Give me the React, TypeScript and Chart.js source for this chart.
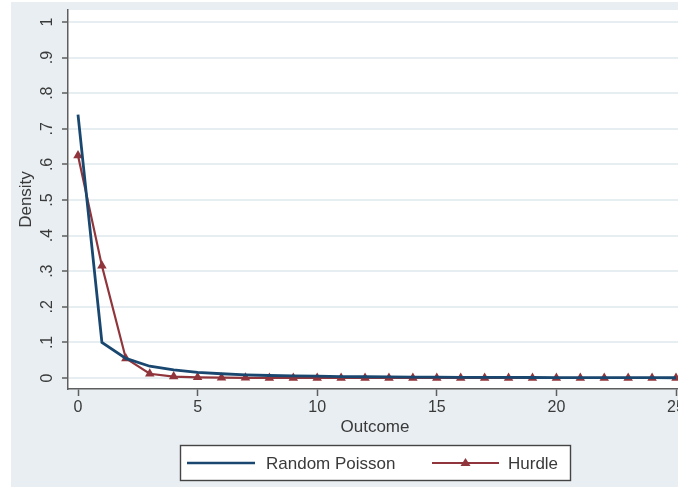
import React, { useEffect, useRef } from "react";
import { Chart, registerables } from "chart.js";

Chart.register(...registerables);

// ---------- data ----------
const outcomes = [0, 1, 2, 3, 4, 5, 6, 7, 8, 9, 10, 11, 12, 13, 14, 15, 16, 17, 18, 19, 20, 21, 22, 23, 24, 25];
const randomPoisson = [
  0.74, 0.1, 0.055, 0.033, 0.023, 0.016, 0.012, 0.009, 0.007, 0.006, 0.005, 0.004, 0.0035,
  0.003, 0.0026, 0.0023, 0.002, 0.0018, 0.0016, 0.0014, 0.0012, 0.0011, 0.001, 0.0009, 0.0008, 0.0007,
];
const hurdle = [
  0.625, 0.315, 0.055, 0.012, 0.004, 0.002, 0.001, 0.0006, 0.0003, 0.0002, 0.0001, 0, 0,
  0, 0, 0, 0, 0, 0, 0, 0, 0, 0, 0, 0, 0,
];
const seriesLabels = ["Random Poisson", "Hurdle"];
const yTickValues = [0, 0.1, 0.2, 0.3, 0.4, 0.5, 0.6, 0.7, 0.8, 0.9, 1];
const yTickLabels = ["0", ".1", ".2", ".3", ".4", ".5", ".6", ".7", ".8", ".9", "1"];
const xTickValues = [0, 5, 10, 15, 20, 25];
const xTitle = "Outcome";
const yTitle = "Density";

// ---------- styles ----------
const FONT = "'Liberation Sans', Arial, sans-serif";
const TEXT = "#3a3a3a";
const AXIS = "#5e5e5e";
const GRID = "#e7eef1";
const BG = "#e8eef1";
const BLUE = "#1a476f";
const RED = "#90353b";

const CW = 700;
const CH = 485;

export default function App() {
  const ref = useRef<HTMLCanvasElement | null>(null);

  useEffect(() => {
    const canvas = ref.current;
    if (!canvas) return;

    const bgPlugin = {
      id: "bgPlugin",
      beforeDraw(chart: any) {
        const { ctx, chartArea } = chart;
        ctx.save();
        ctx.fillStyle = "#ffffff";
        ctx.fillRect(chartArea.left, chartArea.top, chartArea.right - chartArea.left, chartArea.bottom - chartArea.top);
        ctx.restore();
      },
      afterDraw(chart: any) {
        const { ctx, chartArea } = chart;
        const yScale = chart.scales.y;
        ctx.save();
        ctx.fillStyle = TEXT;
        // y tick labels, rotated
        ctx.font = `16px ${FONT}`;
        ctx.textAlign = "center";
        ctx.textBaseline = "middle";
        yTickValues.forEach((v, i) => {
          const py = yScale.getPixelForValue(v);
          ctx.save();
          ctx.translate(37, py);
          ctx.rotate(-Math.PI / 2);
          ctx.fillText(yTickLabels[i], 0, 0);
          ctx.restore();
        });
        // y title
        ctx.font = `17px ${FONT}`;
        ctx.save();
        ctx.translate(15, (chartArea.top + chartArea.bottom) / 2);
        ctx.rotate(-Math.PI / 2);
        ctx.fillText(yTitle, 0, 0);
        ctx.restore();
        // x title
        ctx.fillText(xTitle, 364, 425);

        // legend
        const bx = 169.5, by = 443.5, bw = 390, bh = 35;
        ctx.fillStyle = "#ffffff";
        ctx.fillRect(bx, by, bw, bh);
        ctx.strokeStyle = "#444444";
        ctx.lineWidth = 1.4;
        ctx.strokeRect(bx, by, bw, bh);
        const ly = by + bh / 2;
        ctx.strokeStyle = BLUE;
        ctx.lineWidth = 2.6;
        ctx.beginPath();
        ctx.moveTo(176, ly);
        ctx.lineTo(244, ly);
        ctx.stroke();
        ctx.strokeStyle = RED;
        ctx.lineWidth = 1.8;
        ctx.beginPath();
        ctx.moveTo(421, ly);
        ctx.lineTo(488, ly);
        ctx.stroke();
        ctx.fillStyle = RED;
        ctx.beginPath();
        ctx.moveTo(454.5, ly - 5);
        ctx.lineTo(459.5, ly + 3);
        ctx.lineTo(449.5, ly + 3);
        ctx.closePath();
        ctx.fill();
        ctx.fillStyle = TEXT;
        ctx.font = `17px ${FONT}`;
        ctx.textAlign = "left";
        ctx.fillText(seriesLabels[0], 255, ly + 1);
        ctx.fillText(seriesLabels[1], 497, ly + 1);
        ctx.restore();
      },
    };

    const chart = new Chart(canvas, {
      type: "line",
      data: {
        datasets: [
          {
            label: seriesLabels[0],
            data: outcomes.map((x, i) => ({ x, y: randomPoisson[i] })),
            borderColor: BLUE,
            backgroundColor: BLUE,
            borderWidth: 2.8,
            pointRadius: 0,
            tension: 0,
          },
          {
            label: seriesLabels[1],
            data: outcomes.map((x, i) => ({ x, y: hurdle[i] })),
            borderColor: RED,
            backgroundColor: RED,
            borderWidth: 2.2,
            pointStyle: "triangle",
            pointRadius: 5.5,
            pointBorderWidth: 0,
            tension: 0,
          },
        ],
      },
      options: {
        responsive: false,
        animation: false,
        devicePixelRatio: 1,
        layout: { padding: { top: 8, right: 29, left: 0, bottom: 0 } },
        plugins: { legend: { display: false }, tooltip: { enabled: false } },
        scales: {
          x: {
            type: "linear",
            min: -10 / 23.92,
            max: (682 - 78) / 23.92,
            afterBuildTicks: (s: any) => {
              s.ticks = xTickValues.map((v) => ({ value: v }));
            },
            afterFit: (s: any) => {
              s.height = CH - 387;
            },
            ticks: {
              autoSkip: false,
              maxRotation: 0,
              minRotation: 0,
              padding: 2,
              color: TEXT,
              font: { family: FONT, size: 16 },
              callback: (v: any) => String(v),
            },
            grid: {
              drawOnChartArea: false,
              drawTicks: true,
              tickLength: 7,
              tickColor: AXIS,
              tickWidth: 1.5,
            },
            border: { display: true, color: AXIS, width: 1.5 },
          },
          y: {
            type: "linear",
            min: -11 / 356,
            max: 1 + 12 / 356,
            afterBuildTicks: (s: any) => {
              s.ticks = yTickValues.map((v) => ({ value: v }));
            },
            afterFit: (s: any) => {
              s.width = 57;
            },
            ticks: { display: false },
            grid: {
              color: GRID,
              lineWidth: 2,
              drawTicks: true,
              tickLength: 6,
              tickColor: AXIS,
              tickWidth: 1.5,
            },
            border: { display: true, color: AXIS, width: 1.5 },
          },
        },
      },
      plugins: [bgPlugin],
    } as any);

    return () => chart.destroy();
  }, []);

  return (
    <div
      style={{
        position: "fixed",
        left: 0,
        top: 0,
        width: 678,
        height: 487,
        overflow: "hidden",
        background: "#ffffff",
      }}
    >
      <canvas
        ref={ref}
        width={CW}
        height={CH}
        style={{ position: "absolute", left: 11, top: 2, width: CW, height: CH, background: BG }}
      />
    </div>
  );
}
